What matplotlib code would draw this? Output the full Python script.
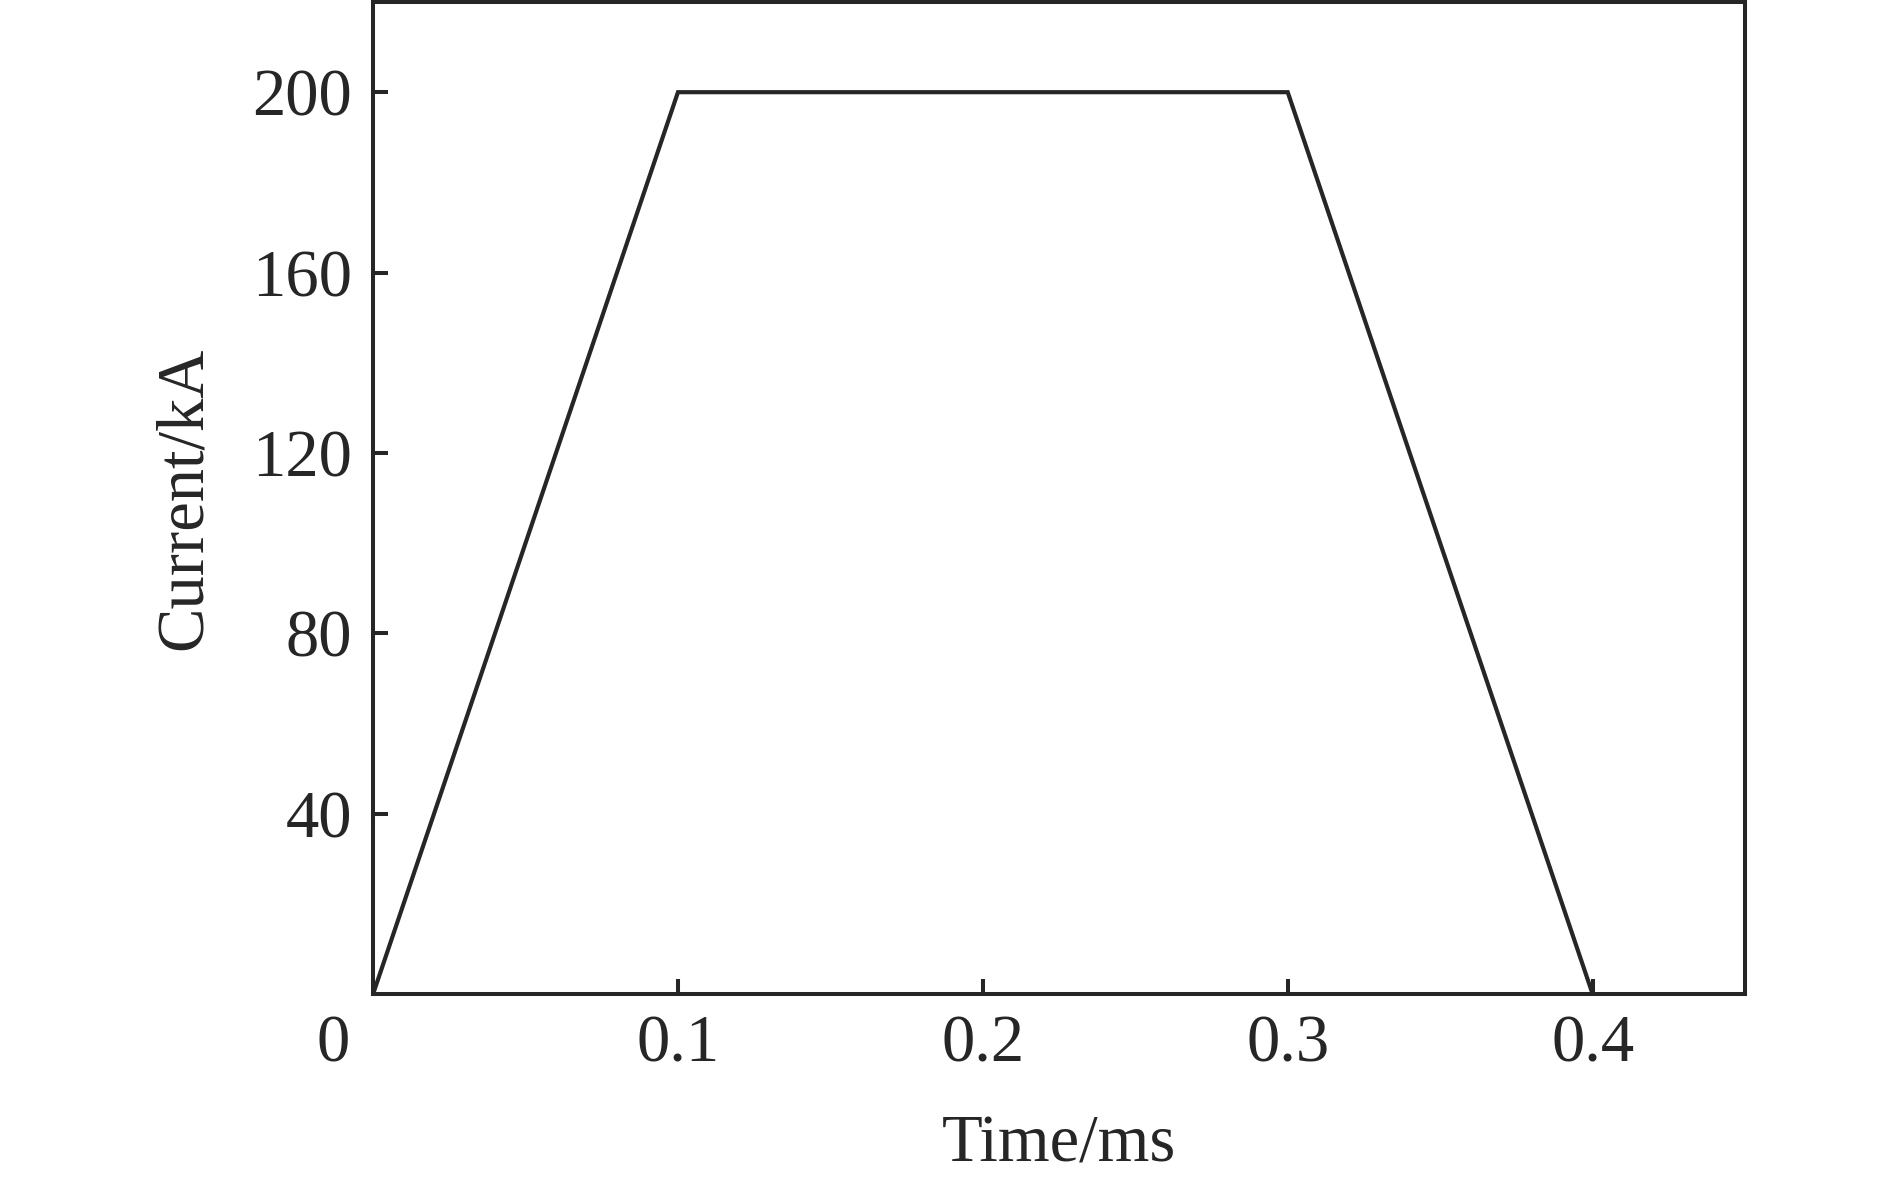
import matplotlib.pyplot as plt

# trapezoidal current pulse
time_ms = [0.0, 0.1, 0.3, 0.4]
current_ka = [0, 200, 200, 0]
xticks = [0.1, 0.2, 0.3, 0.4]
xticklabels = ['0.1', '0.2', '0.3', '0.4']
yticks = [40, 80, 120, 160, 200]

plt.rcParams['font.family'] = ['Liberation Serif', 'DejaVu Serif']
ink = '#262626'

fig = plt.figure(figsize=(18.9, 11.79), dpi=100)
ax = fig.add_axes([0.1974, 0.1569, 0.7259, 0.8414])

ax.plot(time_ms, current_ka, color=ink, lw=3.0, solid_joinstyle='miter')
ax.set_xlim(0, 0.45)
ax.set_ylim(0, 220)
ax.set_xticks(xticks)
ax.set_xticklabels(xticklabels)
ax.set_yticks(yticks)
ax.tick_params(direction='in', length=11, width=2.9, color=ink,
               labelsize=48, labelcolor=ink, pad=15)
for s in ax.spines.values():
    s.set_linewidth(2.9)
    s.set_color(ink)

# shared zero at the corner
ax.annotate('0', xy=(0, 0), xycoords='axes fraction', xytext=(-29, -15),
            textcoords='offset points', ha='center', va='top',
            fontsize=48, color=ink)

ax.set_xlabel('Time/ms', fontsize=48, color=ink, labelpad=28)
ax.set_ylabel('Current/kA', fontsize=48, color=ink, labelpad=27)

fig.savefig('out.png', dpi=100)
